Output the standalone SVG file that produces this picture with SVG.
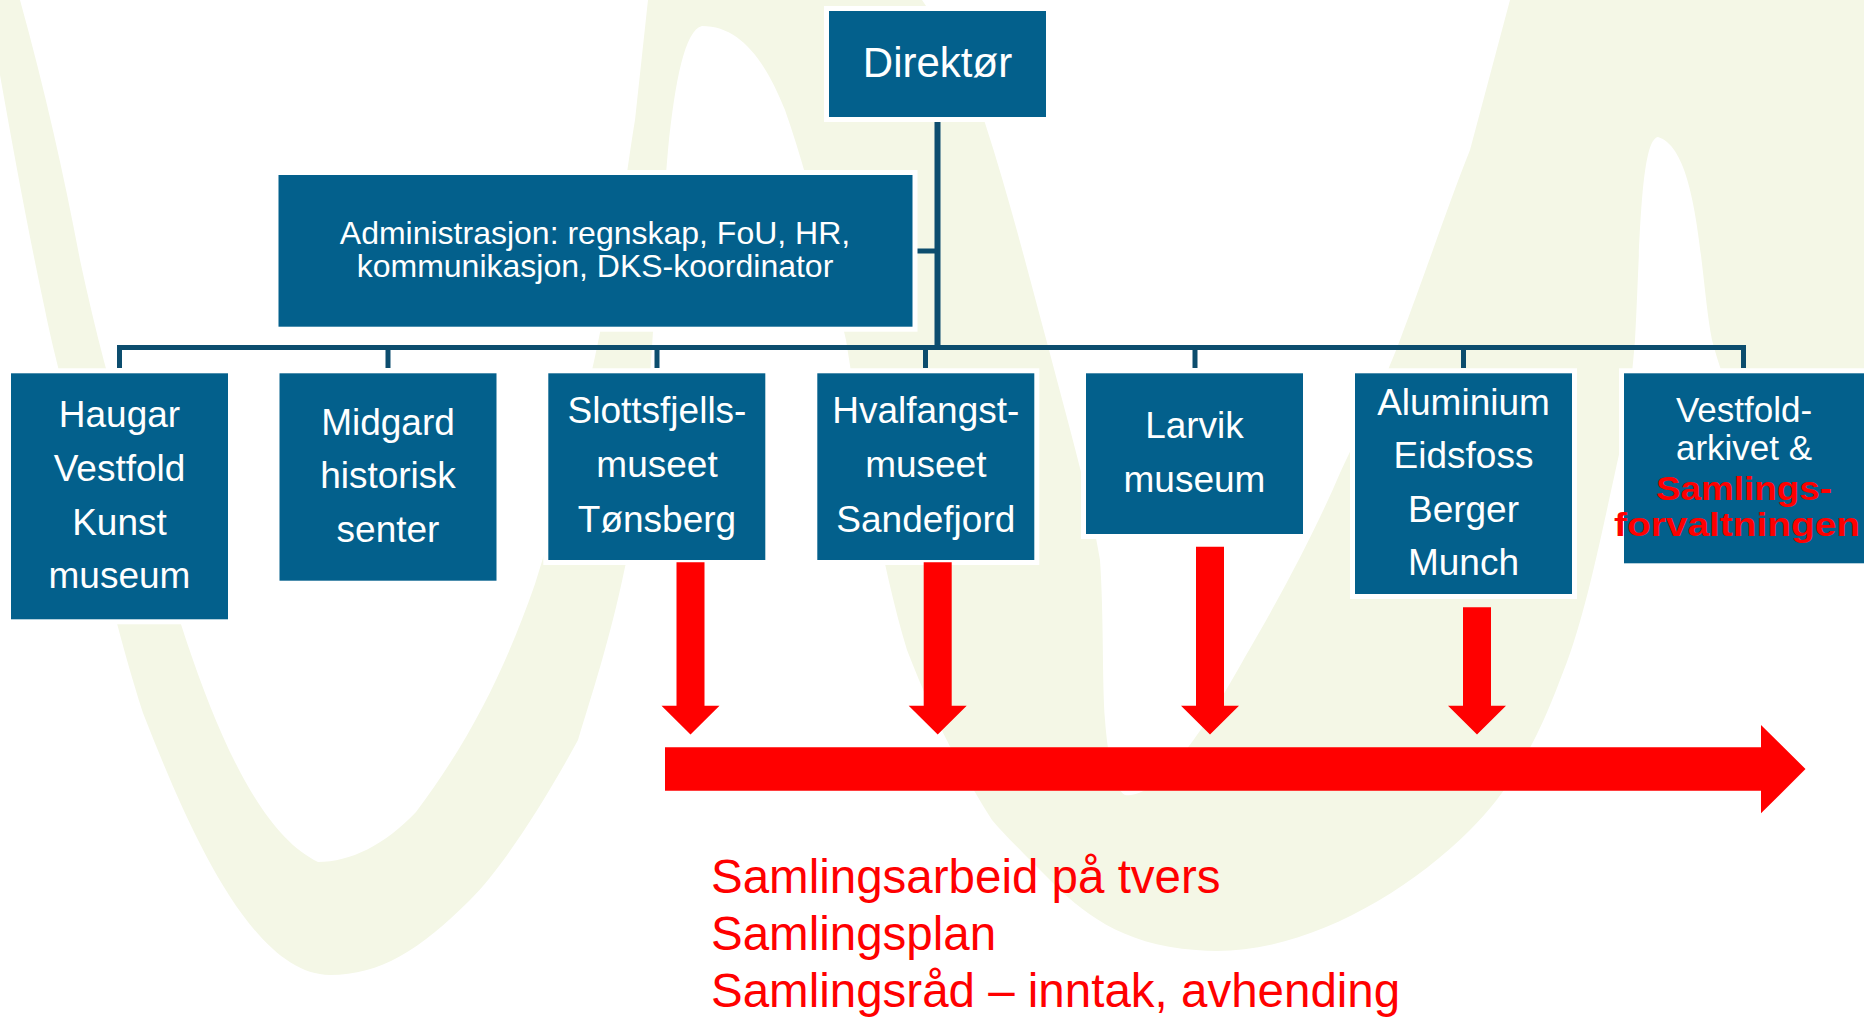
<svg xmlns="http://www.w3.org/2000/svg" width="1864" height="1018" viewBox="0 0 1864 1018">
<style>
.box{fill:#03608c;stroke:#ffffff;stroke-width:10;paint-order:stroke}
.t{font-family:"Liberation Sans",Arial,sans-serif;fill:#ffffff;text-anchor:middle;font-size:37px}
.conn{fill:none;stroke:#0c4d6e;stroke-width:5}
.red{fill:#ff0000}
.rt{font-family:"Liberation Sans",Arial,sans-serif;fill:#ff0000;font-size:47.5px}
</style>
<rect width="1864" height="1018" fill="#ffffff"/>
<g id="background">
<path fill="#f4f7e6" d="M0,0 L20,0 C45,90 65,180 80,260 C95,330 112,395 130,450 C175,610 230,820 318,862 C350,862 385,845 416,812 C470,740 505,670 535,584 C555,520 572,460 585,400 C600,340 608,290 615,250 C625,190 630,150 635,120 L648,0 L922,0 C950,40 970,80 985,123 C1010,200 1030,280 1049,350 C1070,430 1090,500 1100,560 C1104,620 1102,680 1105,720 C1108,760 1115,790 1125,795 C1160,800 1210,720 1245,657 C1290,580 1320,520 1340,473 C1365,420 1385,380 1400,340 C1430,260 1450,200 1470,150 L1510,0 L1864,0 L1864,560 C1830,530 1800,510 1780,480 C1745,430 1725,390 1712,340 C1700,280 1700,150 1658,137 C1640,140 1640,250 1635,340 C1630,400 1625,430 1620,450 C1600,540 1585,620 1560,680 C1530,760 1500,800 1470,830 C1400,900 1290,960 1196,950 C1120,945 1080,910 1050,880 C1020,850 1000,830 992,820 C960,770 930,710 907,650 C880,560 865,460 846,340 C830,270 810,180 785,110 C765,60 740,26 702,26 C685,30 675,80 668,150 C662,220 660,260 655,300 C650,380 645,450 640,500 C635,530 630,550 625,567 C610,640 590,700 578,740 C540,810 500,870 470,900 C420,950 380,975 330,975 C250,975 185,820 143,713 C120,640 105,580 90,500 C70,410 55,360 45,310 C30,240 15,160 0,75 Z"/>
</g>
<g id="connectors">
<line class="conn" x1="937.5" y1="117" x2="937.5" y2="350" style="stroke-width:6"/>
<line class="conn" x1="912" y1="251" x2="937.5" y2="251"/>
<path class="conn" d="M119.5,368 V347.5 H1743.5 V368"/>
<line class="conn" x1="388" y1="347.5" x2="388" y2="368"/>
<line class="conn" x1="657" y1="347.5" x2="657" y2="368"/>
<line class="conn" x1="925.5" y1="347.5" x2="925.5" y2="368"/>
<line class="conn" x1="1195" y1="347.5" x2="1195" y2="368"/>
<line class="conn" x1="1463.5" y1="347.5" x2="1463.5" y2="368"/>
</g>
<g id="direktor">
<rect class="box" x="829" y="11" width="217" height="106"/>
<text class="t" x="937.5" y="76.7" style="font-size:42px">Direktør</text>
</g>
<g id="administrasjon">
<rect class="box" x="278.5" y="175" width="634" height="151.7"/>
<text class="t" style="font-size:32px"><tspan x="595" y="244">Administrasjon: regnskap, FoU, HR,</tspan><tspan x="595" y="276.7">kommunikasjon, DKS-koordinator</tspan></text>
</g>
<g id="haugar">
<rect class="box" x="11" y="373.3" width="217" height="246"/>
<text class="t"><tspan x="119.5" y="427.3">Haugar</tspan><tspan x="119.5" y="480.7">Vestfold</tspan><tspan x="119.5" y="535">Kunst</tspan><tspan x="119.5" y="588.3">museum</tspan></text>
</g>
<g id="midgard">
<rect class="box" x="279.5" y="373.3" width="217" height="207.4"/>
<text class="t"><tspan x="388" y="435">Midgard</tspan><tspan x="388" y="488.3">historisk</tspan><tspan x="388" y="541.7">senter</tspan></text>
</g>
<g id="slottsfjells">
<rect class="box" x="548.3" y="373.3" width="217" height="186.7"/>
<text class="t"><tspan x="657" y="423.3">Slottsfjells-</tspan><tspan x="657" y="477.3">museet</tspan><tspan x="657" y="531.7">Tønsberg</tspan></text>
</g>
<g id="hvalfangst">
<rect class="box" x="817.3" y="373.3" width="217" height="186.7"/>
<text class="t"><tspan x="925.8" y="423.3">Hvalfangst-</tspan><tspan x="925.8" y="477.3">museet</tspan><tspan x="925.8" y="531.7">Sandefjord</tspan></text>
</g>
<g id="larvik">
<rect class="box" x="1086" y="373.3" width="217" height="160.7"/>
<text class="t"><tspan x="1194.5" y="438.3">Larvik</tspan><tspan x="1194.5" y="491.7">museum</tspan></text>
</g>
<g id="aluminium">
<rect class="box" x="1355" y="373.3" width="217" height="220.7"/>
<text class="t"><tspan x="1463.5" y="415">Aluminium</tspan><tspan x="1463.5" y="468.3">Eidsfoss</tspan><tspan x="1463.5" y="521.7">Berger</tspan><tspan x="1463.5" y="575">Munch</tspan></text>
</g>
<g id="vestfold">
<rect class="box" x="1624" y="373.3" width="240" height="190"/>
<text class="t" style="font-size:35px"><tspan x="1744" y="422">Vestfold-</tspan><tspan x="1744" y="460">arkivet &amp;</tspan></text>
<text class="t" style="fill:#ff0000;font-weight:bold;font-size:34px"><tspan x="1744" y="500" textLength="176" lengthAdjust="spacingAndGlyphs">Samlings-</tspan><tspan x="1737" y="535.5" textLength="246" lengthAdjust="spacingAndGlyphs">forvaltningen</tspan></text>
</g>
<g id="red-arrows" class="red">
<polygon points="676.5,562.3 704.5,562.3 704.5,705.7 719.5,705.7 690.5,734.5 661.5,705.7 676.5,705.7"/>
<polygon points="923.7,562.3 951.7,562.3 951.7,705.7 966.7,705.7 937.7,734.5 908.7,705.7 923.7,705.7"/>
<polygon points="1196,546.7 1224,546.7 1224,705.7 1239,705.7 1210,734.5 1181,705.7 1196,705.7"/>
<polygon points="1463,607.3 1491,607.3 1491,705.7 1506,705.7 1477,734.5 1448,705.7 1463,705.7"/>
<polygon points="665,747.3 1761,747.3 1761,725 1805.5,769 1761,813.3 1761,790.7 665,790.7"/>
</g>
<g id="samlingsarbeid">
<text class="rt"><tspan x="711" y="893">Samlingsarbeid på tvers</tspan><tspan x="711" y="950">Samlingsplan</tspan><tspan x="711" y="1006.5">Samlingsråd – inntak, avhending</tspan></text>
</g>
</svg>
